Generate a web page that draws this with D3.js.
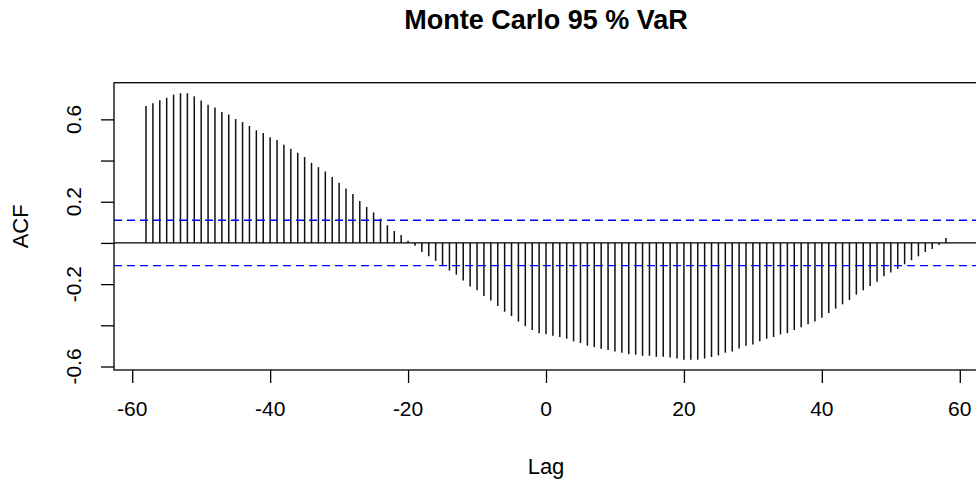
<!DOCTYPE html>
<html>
<head>
<meta charset="utf-8">
<script src="https://cdn.jsdelivr.net/npm/d3@7"></script>
<style>
  body { margin: 0; background: #fff; }
  svg { display: block; font-family: "Liberation Sans", Arial, sans-serif; }
</style>
</head>
<body>
<svg id="chart" width="976" height="479"></svg>
<script>
// cross-correlation values, lag -58 .. 58
const lags = d3.range(-58, 59);
const acfValues = [
  0.665, 0.678, 0.693, 0.705, 0.720, 0.727, 0.727, 0.712, 0.691, 0.671,
  0.657, 0.636, 0.623, 0.602, 0.587, 0.568, 0.547, 0.534, 0.513, 0.500,
  0.477, 0.457, 0.438, 0.417, 0.389, 0.368, 0.347, 0.320, 0.292, 0.264,
  0.237, 0.203, 0.175, 0.148, 0.118, 0.086, 0.058, 0.038, 0.010, -0.014,
  -0.044, -0.065, -0.087, -0.110, -0.134, -0.154, -0.183, -0.211, -0.230, -0.258,
  -0.279, -0.306, -0.334, -0.355, -0.382, -0.404, -0.423, -0.438, -0.444, -0.451,
  -0.457, -0.465, -0.478, -0.486, -0.499, -0.506, -0.514, -0.520, -0.527, -0.533,
  -0.540, -0.543, -0.548, -0.548, -0.553, -0.553, -0.556, -0.561, -0.567, -0.567,
  -0.567, -0.561, -0.554, -0.546, -0.533, -0.527, -0.512, -0.499, -0.493, -0.478,
  -0.465, -0.457, -0.444, -0.438, -0.423, -0.410, -0.395, -0.382, -0.363, -0.340,
  -0.319, -0.298, -0.277, -0.251, -0.230, -0.209, -0.188, -0.162, -0.143, -0.126,
  -0.104, -0.084, -0.065, -0.044, -0.029, -0.010, 0.024
];
const ciLevel = 0.11; // approx 1.96/sqrt(n)
const xTicks = [-60, -40, -20, 0, 20, 40, 60];
const yTicks = [-0.6, -0.4, -0.2, 0, 0.2, 0.4, 0.6];
const yLabelled = [-0.6, -0.2, 0.2, 0.6];

const svg = d3.select("#chart");
const plotLeft = 114, plotRight = 978, plotTop = 82.7, plotBottom = 370;

const x = d3.scaleLinear().domain([-62.64, 62.64]).range([plotLeft, plotRight]);
const y = d3.scaleLinear().domain([-0.617, 0.778]).range([plotBottom, plotTop]);

// R-style labels use a plain hyphen for minus
const fmtX = d => String(d);
const fmtY = d => d.toFixed(1);

// title
svg.append("text")
  .attr("x", 546).attr("y", 29)
  .attr("text-anchor", "middle")
  .attr("font-weight", "bold")
  .attr("font-size", 27)
  .text("Monte Carlo 95 % VaR");

// bars (vertical spikes)
svg.append("g")
  .selectAll("line")
  .data(lags)
  .join("line")
  .attr("x1", d => x(d)).attr("x2", d => x(d))
  .attr("y1", y(0))
  .attr("y2", (d, i) => y(acfValues[i]))
  .attr("stroke", "#111")
  .attr("stroke-width", 1.5);

// zero line
svg.append("line")
  .attr("x1", plotLeft).attr("x2", plotRight)
  .attr("y1", y(0)).attr("y2", y(0))
  .attr("stroke", "#000").attr("stroke-width", 1.3);

// confidence bounds
svg.append("g")
  .selectAll("line")
  .data([ciLevel, -ciLevel])
  .join("line")
  .attr("x1", plotLeft).attr("x2", plotRight)
  .attr("y1", d => y(d)).attr("y2", d => y(d))
  .attr("stroke", "#0000ff")
  .attr("stroke-width", 1.4)
  .attr("stroke-dasharray", "8,5");

// box
svg.append("rect")
  .attr("x", plotLeft).attr("y", plotTop)
  .attr("width", plotRight - plotLeft).attr("height", plotBottom - plotTop)
  .attr("fill", "none").attr("stroke", "#000").attr("stroke-width", 1.3);

// x axis
const xAxis = svg.append("g")
  .attr("transform", `translate(0,${plotBottom})`)
  .call(d3.axisBottom(x).tickValues(xTicks).tickSize(13).tickFormat(""));
xAxis.select(".domain").remove();
xAxis.selectAll("line").attr("stroke-width", 1.3);

svg.append("g")
  .selectAll("text")
  .data(xTicks)
  .join("text")
  .attr("x", d => x(d)).attr("y", 416)
  .attr("text-anchor", "middle")
  .attr("font-size", 21)
  .text(fmtX);

// y axis
const yAxis = svg.append("g")
  .attr("transform", `translate(${plotLeft},0)`)
  .call(d3.axisLeft(y).tickValues(yTicks).tickSize(13).tickFormat(""));
yAxis.select(".domain").remove();
yAxis.selectAll("line").attr("stroke-width", 1.3);

svg.append("g")
  .selectAll("text")
  .data(yLabelled)
  .join("text")
  .attr("transform", d => `translate(81,${y(d)}) rotate(-90)`)
  .attr("text-anchor", "middle")
  .attr("font-size", 21)
  .text(fmtY);

// axis titles
svg.append("text")
  .attr("x", 546).attr("y", 474)
  .attr("text-anchor", "middle")
  .attr("font-size", 22)
  .text("Lag");

svg.append("text")
  .attr("transform", `translate(28,${(plotTop + plotBottom) / 2}) rotate(-90)`)
  .attr("text-anchor", "middle")
  .attr("font-size", 22)
  .text("ACF");
</script>
</body>
</html>
